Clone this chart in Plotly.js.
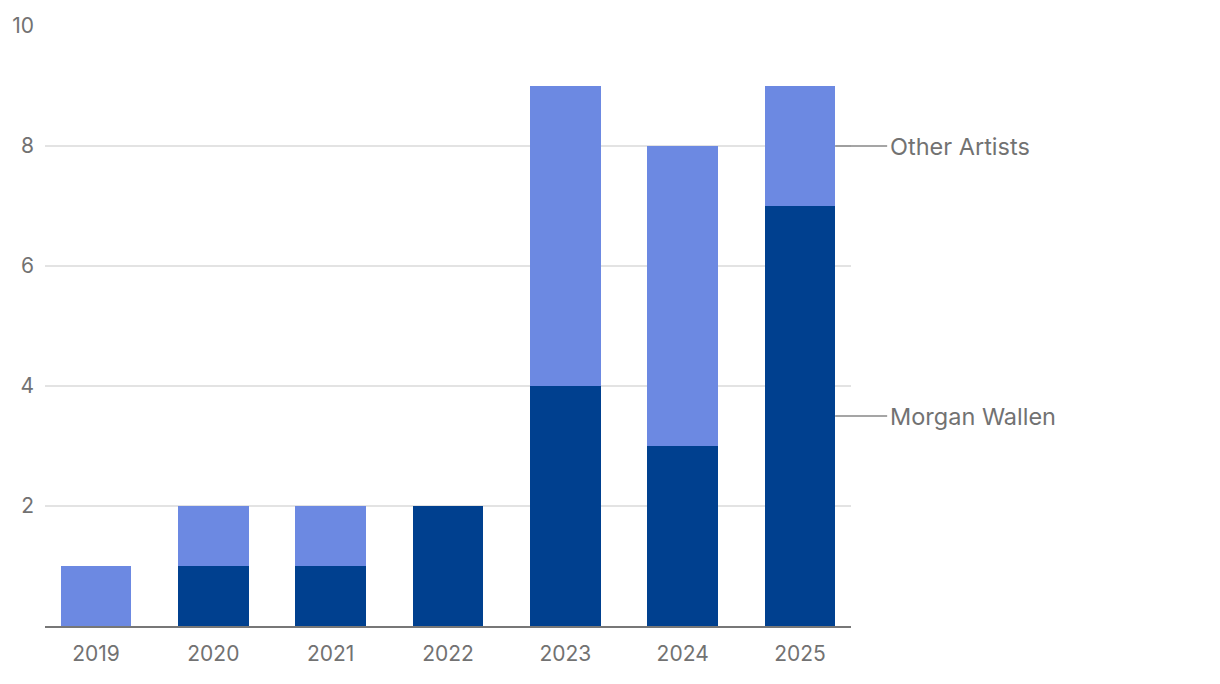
<!DOCTYPE html>
<html><head><meta charset="utf-8">
<script src="https://cdn.plot.ly/plotly-3.0.1.min.js"></script>
<style>html,body{margin:0;padding:0;background:#fff}#chart{width:1220px;height:684px}</style>
</head><body><div id="chart"></div>
<script>
const years = ['2019','2020','2021','2022','2023','2024','2025'];
const morganWallen = [0,1,1,2,4,3,7];
const otherArtists = [1,1,1,0,5,5,2];
const seriesNames = ['Morgan Wallen','Other Artists'];
const yTicks = [2,4,6,8,10];

const darkBlue = '#00408f';
const lightBlue = '#6c89e2';
const textGrey = '#727272';
const fontFam = 'Inter, "Noto Sans", sans-serif';

const traces = [
  {type:'bar', x:years, y:morganWallen, name:seriesNames[0], marker:{color:darkBlue}, width:0.6, hoverinfo:'x+y+name'},
  {type:'bar', x:years, y:otherArtists, name:seriesNames[1], marker:{color:lightBlue}, width:0.6, hoverinfo:'x+y+name'}
];

const last = years.length - 1;
const mwMid = morganWallen[last]/2;
const oaMid = morganWallen[last] + otherArtists[last]/2;
const lineStart = last + 0.3;

function label(text, y){
  return {xref:'x', yref:'y', x:lineStart, y:y, text:text, showarrow:true, arrowhead:0, arrowwidth:1.3,
          arrowcolor:'#888', ax:52, ay:0, xanchor:'left', standoff:0, borderpad:2,
          font:{size:23.5, color:textGrey}};
}

const layout = {
  width:1220, height:684,
  barmode:'stack',
  showlegend:false,
  paper_bgcolor:'#fff', plot_bgcolor:'#fff',
  margin:{l:45, r:369, t:26, b:58},
  font:{family:fontFam, color:textGrey, size:21},
  xaxis:{type:'category', range:[-0.435, last+0.435], showgrid:false, showline:true, linecolor:'#777', linewidth:2,
         ticks:'', ticklabelstandoff:8, tickfont:{size:21, color:textGrey}},
  yaxis:{range:[0,10], tickvals:yTicks, showgrid:true, gridcolor:'#e3e3e3', gridwidth:1.5, zeroline:false, showline:false,
         ticks:'', ticklabelstandoff:10, tickfont:{size:21, color:textGrey}},
  annotations:[label(seriesNames[1], oaMid), label(seriesNames[0], mwMid)]
};
Plotly.newPlot('chart', traces, layout, {displayModeBar:false, staticPlot:true});
</script></body></html>
